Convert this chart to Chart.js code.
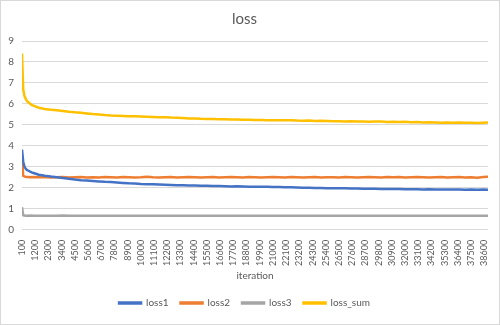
<!DOCTYPE html>
<html>
<head>
    <title>loss</title>
    <script src="https://cdn.jsdelivr.net/npm/chart.js"></script>
    <style>
        body { margin: 0; background: #FFFFFF; }
        .chart-box {
            width: 498px;
            height: 323px;
            border: 1px solid #D9D9D9;
            position: relative;
        }
    </style>
</head>
<body>
    <div class="chart-box">
        <canvas id="lossChart" width="498" height="323"></canvas>
    </div>
<script>
    var iterations = [100, 200, 300, 400, 500, 600, 700, 800, 900, 1000,
        1500, 2000, 2500, 3000, 3500, 4000, 4500, 5000, 5500, 6000,
        6500, 7000, 7500, 8000, 8500, 9000, 9500, 10000, 10500, 11000,
        11500, 12000, 12500, 13000, 13500, 14000, 14500, 15000, 15500, 16000,
        16500, 17000, 17500, 18000, 18500, 19000, 19500, 20000, 20500, 21000,
        21500, 22000, 22500, 23000, 23500, 24000, 24500, 25000, 25500, 26000,
        26500, 27000, 27500, 28000, 28500, 29000, 29500, 30000, 30500, 31000,
        31500, 32000, 32500, 33000, 33500, 34000, 34500, 35000, 35500, 36000,
        36500, 37000, 37500, 38000, 38500, 38900];

    var loss1 = [3.83, 3.25, 3.02, 2.92, 2.86, 2.83, 2.80, 2.77, 2.74, 2.72,
        2.63, 2.58, 2.54, 2.51, 2.47, 2.44, 2.40, 2.37, 2.35, 2.33,
        2.31, 2.29, 2.28, 2.26, 2.24, 2.22, 2.21, 2.19, 2.18, 2.17,
        2.16, 2.15, 2.14, 2.13, 2.13, 2.12, 2.11, 2.10, 2.10, 2.09,
        2.09, 2.08, 2.07, 2.08, 2.07, 2.06, 2.06, 2.05, 2.05, 2.04,
        2.04, 2.03, 2.03, 2.02, 2.01, 2.01, 2.00, 2.00, 1.99, 1.99,
        1.98, 1.98, 1.97, 1.97, 1.96, 1.96, 1.96, 1.95, 1.95, 1.95,
        1.95, 1.94, 1.94, 1.94, 1.93, 1.94, 1.93, 1.93, 1.93, 1.92,
        1.93, 1.91, 1.92, 1.91, 1.92, 1.91];

    var loss2 = [3.50, 2.58, 2.55, 2.53, 2.52, 2.52, 2.51, 2.52, 2.51, 2.52,
        2.51, 2.52, 2.50, 2.51, 2.52, 2.50, 2.51, 2.52, 2.50, 2.51,
        2.50, 2.52, 2.51, 2.50, 2.52, 2.51, 2.50, 2.51, 2.53, 2.51,
        2.50, 2.51, 2.52, 2.50, 2.51, 2.52, 2.51, 2.50, 2.51, 2.52,
        2.50, 2.51, 2.52, 2.51, 2.50, 2.52, 2.51, 2.50, 2.51, 2.52,
        2.51, 2.50, 2.52, 2.51, 2.50, 2.51, 2.52, 2.50, 2.51, 2.51,
        2.50, 2.52, 2.51, 2.50, 2.51, 2.52, 2.51, 2.50, 2.52, 2.51,
        2.52, 2.50, 2.51, 2.52, 2.51, 2.50, 2.51, 2.52, 2.50, 2.51,
        2.52, 2.50, 2.51, 2.49, 2.52, 2.53];

    var loss3 = [1.08, 0.70, 0.69, 0.68, 0.68, 0.67, 0.68, 0.67, 0.68, 0.67,
        0.67, 0.68, 0.67, 0.67, 0.69, 0.68, 0.67, 0.68, 0.67, 0.67,
        0.68, 0.67, 0.67, 0.68, 0.67, 0.67, 0.68, 0.67, 0.67, 0.68,
        0.67, 0.67, 0.68, 0.67, 0.67, 0.67, 0.68, 0.67, 0.67, 0.67,
        0.68, 0.67, 0.67, 0.67, 0.68, 0.67, 0.67, 0.68, 0.67, 0.67,
        0.67, 0.68, 0.67, 0.67, 0.68, 0.67, 0.68, 0.67, 0.67, 0.67,
        0.67, 0.67, 0.68, 0.67, 0.68, 0.67, 0.67, 0.67, 0.68, 0.67,
        0.67, 0.68, 0.67, 0.67, 0.67, 0.68, 0.67, 0.67, 0.68, 0.67,
        0.67, 0.67, 0.68, 0.67, 0.67, 0.67];

    var lossSum = [8.40, 6.70, 6.40, 6.25, 6.15, 6.09, 6.05, 6.00, 5.96, 5.93,
        5.82, 5.76, 5.73, 5.70, 5.67, 5.63, 5.60, 5.58, 5.55, 5.52,
        5.50, 5.47, 5.45, 5.44, 5.43, 5.42, 5.41, 5.40, 5.39, 5.38,
        5.37, 5.37, 5.35, 5.34, 5.33, 5.31, 5.31, 5.29, 5.28, 5.28,
        5.27, 5.27, 5.26, 5.26, 5.25, 5.25, 5.24, 5.24, 5.23, 5.23,
        5.23, 5.22, 5.23, 5.21, 5.20, 5.21, 5.19, 5.20, 5.19, 5.18,
        5.18, 5.17, 5.18, 5.16, 5.17, 5.15, 5.16, 5.16, 5.14, 5.15,
        5.14, 5.15, 5.13, 5.14, 5.12, 5.13, 5.12, 5.11, 5.12, 5.10,
        5.12, 5.10, 5.11, 5.09, 5.11, 5.12];

    // x tick labels as shown on the axis
    var xTicks = [100, 1200, 2300, 3400, 4500, 5600, 6700, 7800, 8900, 10000,
        11100, 12200, 13300, 14400, 15500, 16600, 17700, 18800, 19900, 21000,
        22100, 23200, 24300, 25400, 26500, 27600, 28700, 29800, 30900, 32000,
        33100, 34200, 35300, 36400, 37500, 38600];

    var seriesNames = ["loss1", "loss2", "loss3", "loss_sum"];
    var seriesColors = ["#4472C4", "#ED7D31", "#A5A5A5", "#FFC000"];
    var seriesValues = [loss1, loss2, loss3, lossSum];

    function toPoints(values) {
        return values.map(function (v, i) { return { x: iterations[i], y: v }; });
    }

    var datasets = seriesNames.map(function (name, i) {
        return {
            label: name,
            data: toPoints(seriesValues[i]),
            borderColor: seriesColors[i],
            backgroundColor: seriesColors[i],
            borderWidth: 2.5,
            pointRadius: 0,
            tension: 0
        };
    });

    var textColor = "#595959";
    Chart.defaults.font.family = "Lato, 'Liberation Sans', sans-serif";

    new Chart(document.getElementById("lossChart").getContext("2d"), {
        type: "line",
        data: { datasets: datasets },
        options: {
            responsive: false,
            animation: false,
            layout: { padding: { left: 0, right: 11, top: 5, bottom: 6 } },
            plugins: {
                title: {
                    display: true,
                    text: "loss",
                    color: textColor,
                    font: { size: 15, weight: "normal" },
                    padding: { top: 4, bottom: 13 }
                },
                legend: {
                    position: "bottom",
                    labels: {
                        color: textColor,
                        font: { size: 10 },
                        boxWidth: 22,
                        boxHeight: 1,
                        padding: 12
                    }
                },
                tooltip: { enabled: false }
            },
            scales: {
                x: {
                    type: "linear",
                    min: 100,
                    max: 38900,
                    grid: { display: false },
                    border: { display: false },
                    afterBuildTicks: function (scale) {
                        scale.ticks = xTicks.map(function (v) { return { value: v }; });
                    },
                    ticks: {
                        color: textColor,
                        font: { size: 9 },
                        minRotation: 90,
                        maxRotation: 90,
                        autoSkip: false,
                        padding: 2,
                        callback: function (v) { return String(v); }
                    },
                    title: {
                        display: true,
                        text: "iteration",
                        color: textColor,
                        font: { size: 10 },
                        padding: { top: 2, bottom: 4 }
                    }
                },
                y: {
                    min: 0,
                    max: 9,
                    grid: { color: "#D9D9D9", drawTicks: false },
                    border: { display: false },
                    ticks: {
                        stepSize: 1,
                        color: textColor,
                        font: { size: 10 },
                        padding: 8
                    },
                    afterFit: function (scale) { scale.width = 21; }
                }
            }
        }
    });
</script>
</body>
</html>
